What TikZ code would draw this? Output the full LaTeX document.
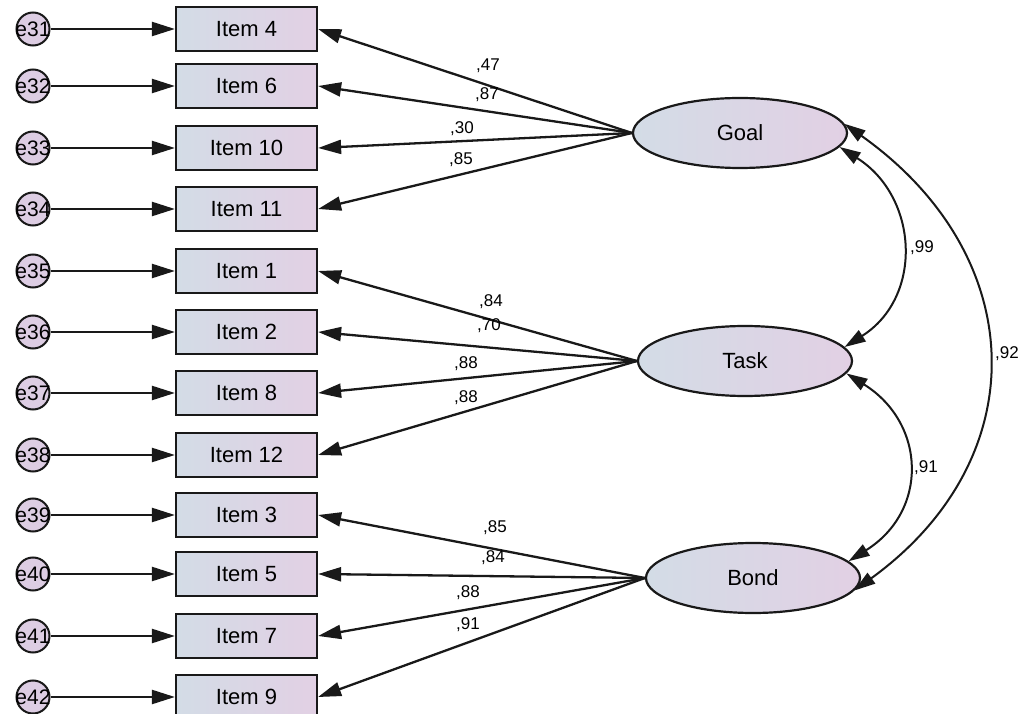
\documentclass[tikz,border=0pt]{standalone}
\usepackage{fontspec}
\setmainfont{Liberation Sans}
\usetikzlibrary{arrows.meta,shapes.geometric}
\definecolor{boxL}{HTML}{D3DCE6}
\definecolor{boxR}{HTML}{E2D0E4}
\definecolor{errc}{HTML}{DDCDE3}
\tikzset{
  itembox/.style={draw=black!90, line width=2.2pt, minimum width=141pt, minimum height=44pt, inner sep=0pt, left color=boxL, right color=boxR, font=\fontsize{22}{22}\selectfont},
  errnode/.style={circle, draw=black!90, line width=2pt, fill=errc, minimum size=33pt, inner sep=0pt},
  errlbl/.style={font=\fontsize{21}{21}\selectfont, inner sep=0pt},
  latent/.style={ellipse, draw=black!90, line width=2.2pt, minimum width=214pt, minimum height=70pt, inner sep=0pt, left color=boxL, right color=boxR, font=\fontsize{22}{22}\selectfont},
  conn/.style={line width=2.3pt, draw=black!90, -{Triangle[length=23pt,width=14pt]}},
  cov/.style={line width=2pt, draw=black!90, {Triangle[length=21pt,width=13pt]}-{Triangle[length=21pt,width=13pt]}},
  coef/.style={font=\fontsize{17}{17}\selectfont, inner sep=0pt}
}
\begin{document}
\begin{tikzpicture}[x=1pt,y=-1pt]
\useasboundingbox[fill=white] (0,0) rectangle (1029,714);
% latent variables
\node[latent] (goal) at (740,133) {Goal};
\node[latent] (task) at (745,361) {Task};
\node[latent] (bond) at (753,578) {Bond};
% items and errors
\foreach \n/\lab/\y/\e in {i4/Item 4/29/31, i6/Item 6/86/32, i10/Item 10/148/33, i11/Item 11/209/34,
  i1/Item 1/271/35, i2/Item 2/332/36, i8/Item 8/393/37, i12/Item 12/455/38,
  i3/Item 3/515/39, i5/Item 5/574/40, i7/Item 7/636/41, i9/Item 9/697/42}{
  \node[itembox] (\n) at (246.5,\y) {\lab};
  \node[errnode] (e\e) at (33,\y) {};
  \node[errlbl] (le\e) at (33,\y) {e\e};
  \draw[conn] (e\e) -- (\n);
}
% loadings
\foreach \n in {i4,i6,i10,i11}{\draw[conn] (goal.west) -- (\n.east);}
\foreach \n in {i1,i2,i8,i12}{\draw[conn] (task.west) -- (\n.east);}
\foreach \n in {i3,i5,i7,i9}{\draw[conn] (bond.west) -- (\n.east);}
% coefficients
\node[coef] (c1) at (488,66) {,47};
\node[coef] (c2) at (487,95) {,87};
\node[coef] (c3) at (462,129) {,30};
\node[coef] (c4) at (461,160) {,85};
\node[coef] (c5) at (491,302) {,84};
\node[coef] (c6) at (489,326) {,70};
\node[coef] (c7) at (466,364) {,88};
\node[coef] (c8) at (466,398) {,88};
\node[coef] (c9) at (495,528) {,85};
\node[coef] (c10) at (493,558) {,84};
\node[coef] (c11) at (468,593) {,88};
\node[coef] (c12) at (468,625) {,91};
% covariances
\draw[cov] (goal.-8) .. controls +(79,50) and +(79,-50) .. (task.8);
\draw[cov] (task.-7) .. controls +(80,50) and +(80,-50) .. (bond.10);
\draw[cov] (goal.5) .. controls +(186,132) and +(182,-132) .. (bond.-7);
\node[coef] (r1) at (922,248) {,99};
\node[coef] (r2) at (926,468) {,91};
\node[coef] (r3) at (1007,354) {,92};
\end{tikzpicture}
\end{document}
